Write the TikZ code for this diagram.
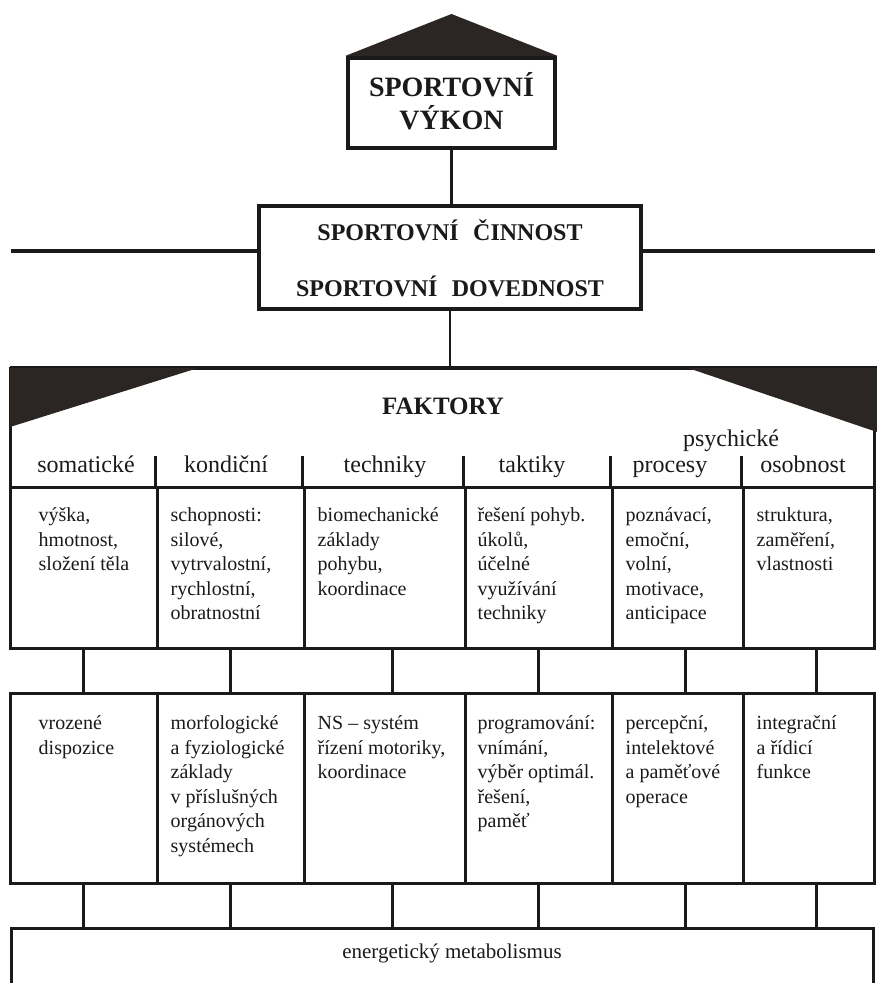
\documentclass[tikz,border=0pt]{standalone}
\usepackage{fontspec}
\setmainfont{Liberation Serif}
\definecolor{ink}{HTML}{1C1A19}
\definecolor{roof}{HTML}{2B2624}
\begin{document}
\begin{tikzpicture}[x=1pt,y=-1pt,
  box/.style={draw=ink, line width=4.5pt, inner sep=0pt},
  cell/.style={draw=ink, line width=3pt, inner sep=0pt},
  link/.style={draw=ink, line width=2.8pt},
  bar/.style={draw=ink, line width=3.5pt},
  txt/.style={anchor=north west, inner sep=0pt, align=left, text=ink,
    font=\fontsize{20}{24.5}\selectfont},
  lbl/.style={anchor=base, inner sep=0pt, text=ink, font=\fontsize{24}{28}\selectfont},
  ttl/.style={inner sep=0pt, text=ink, align=center}]
\useasboundingbox (0,0) rectangle (877,983);
\clip (0,0) rectangle (877,983);
\fill[white] (0,0) rectangle (877,983);

% top box with roof
\node[box, minimum width=207pt, minimum height=90pt] (vykon) at (451.5,103) {};
\fill[roof] (vykon.north west) -- (451.5,14) -- (vykon.north east) -- cycle;
\node[ttl, font=\bfseries\fontsize{28}{33}\selectfont] (vykont) at ([yshift=2pt]vykon.center) {SPORTOVNÍ\\VÝKON};

% middle box
\node[box, minimum width=382pt, minimum height=103pt] (mid) at (450,257.5) {};
\node[ttl, font=\bfseries\fontsize{24}{56}\selectfont] (midt) at ([yshift=-1pt]mid.center) {SPORTOVNÍ\hspace{0.6em}ČINNOST\\SPORTOVNÍ\hspace{0.6em}DOVEDNOST};
\draw[link] (vykon.south) -- (vykon.south |- mid.north);
\coordinate (hl) at (11,251);
\coordinate (hr) at (875,251);
\draw[bar] (hl) -- (hl -| mid.west);
\draw[bar] (hr) -- (hr -| mid.east);

% factor header band
\node[cell, minimum width=864pt, minimum height=119pt] (head) at (442,427.5) {};
\coordinate (tl) at (10,368);
\coordinate (tr) at (877,368);
\draw[bar] (tl) -- (tr);
\fill[roof] (tl) -- (198,368) -- (10,427) -- cycle;
\fill[roof] (688,368) -- (tr) -- (877,432) -- cycle;
\draw[link] (mid.south) -- (mid.south |- head.north);
\node[anchor=base, inner sep=0pt, text=ink, font=\bfseries\fontsize{25}{30}\selectfont] (fak) at (443,414) {FAKTORY};
\node[lbl] (psy) at (731,446) {psychické};

% row 1 and row 2 cells
\foreach \i/\l/\r in {1/10/157, 2/157/304, 3/304/465, 4/465/612, 5/612/743, 6/743/874} {
  \pgfmathsetmacro{\w}{\r-\l}
  \pgfmathsetmacro{\cx}{(\l+\r)/2}
  \node[cell, minimum width=\w pt, minimum height=161pt] (a\i) at (\cx,567.5) {};
  \node[cell, minimum width=\w pt, minimum height=190pt] (b\i) at (\cx,788) {};
}
% header ticks
\foreach \i in {2,...,6} { \draw[link] (a\i.north west) -- ++(0,-30); }

% header labels
\node[lbl] (h1) at (86,472) {somatické};
\node[lbl] (h2) at (226,472) {kondiční};
\node[lbl] (h3) at (385,472) {techniky};
\node[lbl] (h4) at (532,472) {taktiky};
\node[lbl] (h5) at (670,472) {procesy};
\node[lbl] (h6) at (803,472) {osobnost};

% row 1 texts
\node[txt] (t11) at ([xshift=30pt,yshift=-20pt]a1.north west) {\rule{0pt}{16pt}výška,\\hmotnost,\\složení těla};
\node[txt] (t12) at ([xshift=15pt,yshift=-20pt]a2.north west) {\rule{0pt}{16pt}schopnosti:\\silové,\\vytrvalostní,\\rychlostní,\\obratnostní};
\node[txt] (t13) at ([xshift=15pt,yshift=-20pt]a3.north west) {\rule{0pt}{16pt}biomechanické\\základy\\pohybu,\\koordinace};
\node[txt] (t14) at ([xshift=14pt,yshift=-20pt]a4.north west) {\rule{0pt}{16pt}řešení pohyb.\\úkolů,\\účelné\\využívání\\techniky};
\node[txt] (t15) at ([xshift=15pt,yshift=-20pt]a5.north west) {\rule{0pt}{16pt}poznávací,\\emoční,\\volní,\\motivace,\\anticipace};
\node[txt] (t16) at ([xshift=15pt,yshift=-20pt]a6.north west) {\rule{0pt}{16pt}struktura,\\zaměření,\\vlastnosti};

% row 2 texts
\node[txt] (t21) at ([xshift=30pt,yshift=-22pt]b1.north west) {\rule{0pt}{16pt}vrozené\\dispozice};
\node[txt] (t22) at ([xshift=15pt,yshift=-22pt]b2.north west) {\rule{0pt}{16pt}morfologické\\a fyziologické\\základy\\v příslušných\\orgánových\\systémech};
\node[txt] (t23) at ([xshift=15pt,yshift=-22pt]b3.north west) {\rule{0pt}{16pt}NS – systém\\řízení motoriky,\\koordinace};
\node[txt] (t24) at ([xshift=14pt,yshift=-22pt]b4.north west) {\rule{0pt}{16pt}programování:\\vnímání,\\výběr optimál.\\řešení,\\paměť};
\node[txt] (t25) at ([xshift=15pt,yshift=-22pt]b5.north west) {\rule{0pt}{16pt}percepční,\\intelektové\\a paměťové\\operace};
\node[txt] (t26) at ([xshift=15pt,yshift=-22pt]b6.north west) {\rule{0pt}{16pt}integrační\\a řídicí\\funkce};

% bottom box
\node[cell, minimum width=862pt, minimum height=90pt] (en) at (442,973) {};
\node[anchor=base, inner sep=0pt, text=ink, font=\fontsize{21}{25}\selectfont] (ent) at (452,958) {energetický metabolismus};

% connectors between rows
\foreach \i/\d in {1/0, 2/0, 3/8, 4/0, 5/8, 6/8} {
  \draw[link] ([xshift=\d pt]a\i.south) -- ([xshift=\d pt]b\i.north);
  \draw[link] ([xshift=\d pt]b\i.south) -- ([xshift=\d pt]b\i.south |- en.north);
}
\end{tikzpicture}
\end{document}
